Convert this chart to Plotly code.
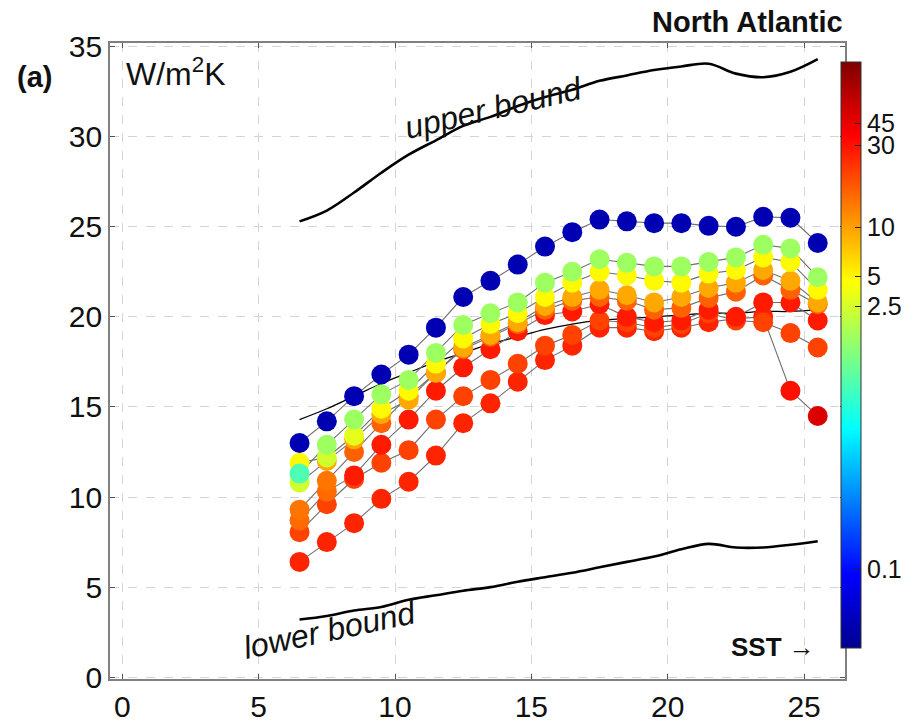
import plotly.graph_objects as go

# Sea surface temperature bins (deg C)
SST = [6.5, 7.5, 8.5, 9.5, 10.5, 11.5, 12.5, 13.5, 14.5, 15.5,
       16.5, 17.5, 18.5, 19.5, 20.5, 21.5, 22.5, 23.5, 24.5, 25.5]

# Bounding curves (W/m^2K)
UPPER_BOUND = [25.3, 25.9, 26.9, 28.0, 29.0, 29.8, 30.6, 31.1, 31.7, 32.2,
               32.6, 33.1, 33.4, 33.7, 33.9, 34.05, 33.5, 33.3, 33.6, 34.3]
LOWER_BOUND = [3.2, 3.4, 3.7, 3.9, 4.3, 4.55, 4.8, 5.0, 5.3, 5.55,
               5.8, 6.1, 6.4, 6.7, 7.1, 7.4, 7.2, 7.2, 7.35, 7.55]
MID_CURVE = [14.3, 14.9, 15.6, 16.3, 16.9, 17.5, 18.0, 18.5, 18.9, 19.3,
             19.6, 19.8, 19.9, 20.0, 20.1, 20.2, 20.2, 20.3, 20.3, 20.4]

# Feedback curves, one per colour class
FB_BLUE = [13.0, 14.2, 15.6, 16.8, 17.9, 19.4, 21.1, 22.0, 22.9, 23.9,
           24.7, 25.4, 25.3, 25.2, 25.2, 25.05, 25.0, 25.55, 25.5, 24.1]
FB_GREEN = [11.3, 12.9, 14.3, 15.7, 16.5, 18.0, 19.55, 20.2, 20.8, 21.9,
            22.5, 23.2, 23.0, 22.8, 22.8, 23.05, 23.3, 24.0, 23.8, 22.2]
FB_YELLOW = [11.9, 12.2, 13.4, 14.9, 15.9, 17.4, 18.8, 19.6, 20.2, 21.1,
             21.9, 22.5, 22.3, 22.0, 21.9, 22.4, 22.6, 23.3, 23.05, 21.5]
FB_GOLD = [10.8, 12.0, 13.2, 14.6, 15.4, 16.9, 18.3, 19.0, 19.7, 20.6,
           21.1, 21.5, 21.2, 20.8, 21.1, 21.6, 21.9, 22.6, 22.0, 20.8]
FB_ORANGE = [9.3, 10.9, 12.5, 14.1, 15.6, 16.9, 18.2, 18.9, 19.6, 20.4,
             20.9, 21.1, 20.9, 20.4, 20.5, 21.05, 21.4, 22.3, 21.5, 20.7]
FB_RED = [8.7, 10.3, 11.2, 12.9, 14.3, 15.9, 17.2, 18.2, 19.2, 20.1,
          20.3, 20.7, 20.0, 19.7, 19.8, 20.4, 20.0, 20.8, 20.8, 19.8]
FB_ORANGERED = [8.05, 9.6, 11.0, 11.9, 12.6, 14.3, 15.6, 16.5, 17.4, 18.4,
                19.0, 19.8, 19.7, 19.4, 19.6, 20.2, 19.8, 19.7, 19.1, 18.3]
FB_DEEPRED = [6.4, 7.5, 8.55, 9.9, 10.85, 12.3, 14.1, 15.2, 16.4, 17.6,
              18.4, 19.4, 19.4, 19.2, 19.4, 19.7, 19.9, 20.0, 15.9, 14.5]

# Position of each curve on the colour scale (0..1)
LEVELS = [0.04, 0.53, 0.63, 0.71, 0.78, 0.85, 0.81, 0.84]
SERIES = [FB_BLUE, FB_GREEN, FB_YELLOW, FB_GOLD, FB_ORANGE,
          FB_RED, FB_ORANGERED, FB_DEEPRED]
# Individual points whose colour differs from the curve's level
LEVEL_OVERRIDES = {(1, 0): 0.45, (3, 0): 0.58, (2, 1): 0.58, (2, 2): 0.6,
                   (4, 0): 0.76, (5, 0): 0.77, (5, 1): 0.77, (4, 1): 0.76,
                   (7, 18): 0.86, (7, 19): 0.91}

# Colour bar labels and their positions on the colour scale
CBAR_LABELS = ["0.1", "2.5", "5", "10", "30", "45"]
CBAR_POS = [0.135, 0.584, 0.635, 0.718, 0.858, 0.896]

JET = [[0.0, "rgb(0,0,143)"], [0.125, "rgb(0,0,255)"], [0.375, "rgb(0,255,255)"],
       [0.625, "rgb(255,255,0)"], [0.875, "rgb(255,0,0)"], [1.0, "rgb(128,0,0)"]]

FONT = "Liberation Sans, Arial, sans-serif"

fig = go.Figure()

for curve in (UPPER_BOUND, LOWER_BOUND):
    fig.add_trace(go.Scatter(x=SST, y=curve, mode="lines",
                             line=dict(color="black", width=2.6, shape="spline"),
                             hoverinfo="skip", showlegend=False))
fig.add_trace(go.Scatter(x=SST, y=MID_CURVE, mode="lines",
                         line=dict(color="black", width=1.3, shape="spline"),
                         hoverinfo="skip", showlegend=False))

# thin grey connectors
for ys in SERIES:
    fig.add_trace(go.Scatter(x=SST, y=ys, mode="lines",
                             line=dict(color="#6f6f6f", width=1.1),
                             hoverinfo="skip", showlegend=False))

# coloured dots
px, py, pc = [], [], []
for si in reversed(range(len(SERIES))):
    for i, (xv, yv) in enumerate(zip(SST, SERIES[si])):
        px.append(xv)
        py.append(yv)
        pc.append(LEVEL_OVERRIDES.get((si, i), LEVELS[si]))

fig.add_trace(go.Scatter(
    x=px, y=py, mode="markers", showlegend=False,
    marker=dict(size=20, color=pc, colorscale=JET, cmin=0, cmax=1,
                line=dict(width=0),
                colorbar=dict(
                    x=0.9946, xanchor="left", xref="paper",
                    y=0.509, yanchor="middle", len=0.921, lenmode="fraction",
                    thickness=20, outlinecolor="#333", outlinewidth=1,
                    tickmode="array", tickvals=CBAR_POS, ticktext=CBAR_LABELS,
                    ticks="inside", ticklen=6, tickcolor="#222",
                    tickfont=dict(family=FONT, size=25, color="#111"),
                    ypad=0, xpad=0,
                )),
))

axis_common = dict(showline=True, linecolor="#808080", linewidth=1.6, mirror="ticks",
                   ticks="inside", ticklen=5, tickcolor="#555",
                   showgrid=True, gridcolor="#d4d4d4", griddash="dash", gridwidth=1,
                   zeroline=False, automargin=False,
                   tickfont=dict(family=FONT, size=30, color="#111"))

fig.update_xaxes(range=[-0.45, 26.5], tickvals=[0, 5, 10, 15, 20, 25], **axis_common)
fig.update_yaxes(range=[-0.1, 35.2], tickvals=[0, 5, 10, 15, 20, 25, 30, 35], **axis_common)

annotations = [
    dict(text="<b>North Atlantic</b>", x=1.0, y=1.033, xref="paper", yref="paper",
         xanchor="right", yanchor="middle", showarrow=False,
         font=dict(family=FONT, size=29, color="#111")),
    dict(text="<b>(a)</b>", x=-0.103, y=0.9465, xref="paper", yref="paper",
         xanchor="center", yanchor="middle", showarrow=False,
         font=dict(family=FONT, size=29, color="#111")),
    dict(text="W/m<sup>2</sup>K", x=0.019, y=0.954, xref="paper", yref="paper",
         xanchor="left", yanchor="middle", showarrow=False,
         font=dict(family=FONT, size=32, color="#111")),
    dict(text="<b>SST</b> →", x=0.962, y=0.05, xref="paper", yref="paper",
         xanchor="right", yanchor="middle", showarrow=False,
         font=dict(family=FONT, size=26, color="#111")),
    dict(text="<i>upper bound</i>", x=13.6, y=31.6, xref="x", yref="y",
         textangle=-13, showarrow=False,
         font=dict(family=FONT, size=32, color="#111")),
    dict(text="<i>lower bound</i>", x=7.6, y=2.6, xref="x", yref="y",
         textangle=-12, showarrow=False,
         font=dict(family=FONT, size=32, color="#111")),
]

fig.update_layout(
    width=917, height=724,
    margin=dict(l=110, r=72, t=43, b=45, autoexpand=False),
    paper_bgcolor="white", plot_bgcolor="white",
    annotations=annotations,
    showlegend=False,
)

fig.write_html("out.html")
